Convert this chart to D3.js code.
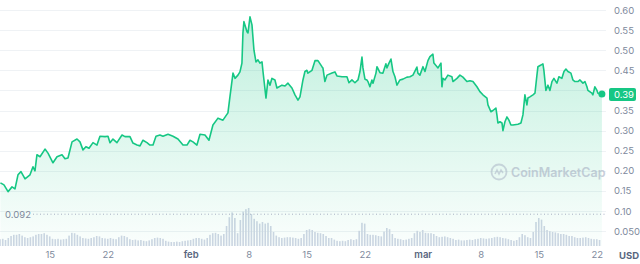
<!DOCTYPE html>
<html lang="en">
<head>
<meta charset="UTF-8">
<title>Price chart</title>
<style>
    html, body { margin: 0; padding: 0; background: #fff; }
    body { font-family: Inter, "Noto Sans", Arial, sans-serif; }
</style>
</head>
<body>
<svg id="svg" width="640" height="264"></svg>
<script src="https://d3js.org/d3.v7.min.js"></script>
<script>
// price samples: days after 2021-01-09 and the price in USD
const priceDays = [0.05, 0.48, 0.97, 1.45, 1.81, 2.17, 2.53, 3.02, 3.62, 3.98, 4.22, 4.46, 4.83, 5.43, 5.79, 6.39, 6.88, 7.48, 7.84, 8.20,
    8.69, 9.29, 9.65, 10.01, 10.37, 10.74, 11.22, 11.70, 12.06, 12.67, 13.03, 13.27, 13.63, 14.11, 14.72, 15.08, 15.68, 16.04, 16.53, 16.89,
    17.25, 17.73, 18.09, 18.46, 18.82, 19.30, 19.66, 20.27, 20.87, 21.47, 22.08, 22.56, 22.92, 23.28, 23.76, 24.13, 24.73, 25.21, 25.69, 26.30,
    26.90, 27.50, 27.74, 28.11, 28.35, 28.71, 28.95, 29.19, 29.31, 29.43, 29.80, 29.92, 30.16, 30.40, 30.64, 30.88, 31.12, 31.36, 31.61, 31.73,
    32.09, 32.33, 32.57, 32.81, 33.17, 33.41, 34.02, 34.38, 34.74, 35.22, 35.59, 35.95, 36.19, 36.55, 36.79, 37.03, 37.15, 37.64, 38.00, 38.36,
    38.84, 38.96, 39.20, 39.45, 40.05, 40.41, 40.65, 41.26, 41.86, 42.10, 42.46, 42.82, 43.19, 43.43, 43.67, 43.79, 44.03, 44.27, 44.39, 44.63,
    44.87, 45.00, 45.36, 45.48, 45.84, 46.20, 46.56, 46.68, 46.93, 47.17, 47.41, 47.65, 47.89, 48.25, 48.61, 49.10, 49.46, 49.82, 50.30, 50.42,
    50.66, 51.03, 51.27, 51.63, 51.87, 52.23, 52.35, 52.72, 52.84, 53.20, 53.32, 53.44, 53.68, 54.04, 54.52, 54.65, 55.13, 55.49, 55.85, 56.33,
    56.70, 57.06, 57.54, 57.90, 58.26, 58.75, 58.87, 59.23, 59.47, 59.83, 59.95, 60.07, 60.32, 60.56, 60.68, 60.92, 61.16, 61.40, 61.64, 61.88,
    62.49, 62.85, 63.09, 63.33, 63.57, 63.69, 63.93, 64.30, 64.54, 64.78, 64.90, 65.26, 65.50, 65.62, 65.86, 66.11, 66.35, 66.59, 66.83, 67.07,
    67.19, 67.43, 67.79, 68.04, 68.28, 68.52, 68.88, 69.12, 69.36, 69.72, 69.97, 70.33, 70.57, 70.81, 70.93, 71.41, 71.53, 71.77, 72.02, 72.14,
    72.38, 72.62]
const prices = [0.170, 0.165, 0.148, 0.160, 0.155, 0.190, 0.198, 0.180, 0.190, 0.210, 0.200, 0.240, 0.235, 0.254, 0.244, 0.220, 0.235, 0.240, 0.230, 0.232,
    0.272, 0.279, 0.272, 0.252, 0.260, 0.256, 0.270, 0.264, 0.286, 0.285, 0.286, 0.270, 0.279, 0.270, 0.289, 0.285, 0.285, 0.269, 0.264, 0.262,
    0.276, 0.270, 0.264, 0.264, 0.286, 0.289, 0.286, 0.291, 0.286, 0.279, 0.264, 0.264, 0.276, 0.272, 0.264, 0.291, 0.289, 0.276, 0.314, 0.331,
    0.326, 0.344, 0.384, 0.443, 0.430, 0.438, 0.446, 0.468, 0.543, 0.571, 0.546, 0.543, 0.583, 0.563, 0.500, 0.471, 0.476, 0.468, 0.471, 0.447,
    0.381, 0.426, 0.413, 0.430, 0.426, 0.406, 0.413, 0.411, 0.418, 0.406, 0.389, 0.376, 0.384, 0.426, 0.447, 0.450, 0.443, 0.450, 0.474, 0.474,
    0.459, 0.456, 0.422, 0.438, 0.443, 0.446, 0.436, 0.434, 0.434, 0.419, 0.426, 0.419, 0.426, 0.447, 0.483, 0.456, 0.428, 0.426, 0.422, 0.409,
    0.426, 0.418, 0.443, 0.459, 0.444, 0.443, 0.466, 0.456, 0.468, 0.478, 0.447, 0.434, 0.413, 0.426, 0.428, 0.433, 0.434, 0.438, 0.458, 0.443,
    0.438, 0.459, 0.447, 0.474, 0.484, 0.490, 0.468, 0.459, 0.456, 0.468, 0.409, 0.430, 0.426, 0.438, 0.434, 0.422, 0.430, 0.438, 0.433, 0.422,
    0.424, 0.422, 0.409, 0.397, 0.389, 0.381, 0.364, 0.347, 0.350, 0.356, 0.339, 0.319, 0.322, 0.319, 0.300, 0.322, 0.334, 0.326, 0.314, 0.314,
    0.316, 0.319, 0.339, 0.389, 0.364, 0.381, 0.384, 0.389, 0.393, 0.438, 0.459, 0.463, 0.466, 0.450, 0.400, 0.413, 0.400, 0.422, 0.430, 0.422,
    0.418, 0.434, 0.430, 0.447, 0.453, 0.447, 0.443, 0.426, 0.422, 0.422, 0.426, 0.418, 0.422, 0.409, 0.400, 0.393, 0.389, 0.409, 0.400, 0.393,
    0.391, 0.391]

// volume, one bar every 8 hours from 2021-01-09 (millions USD, estimated)
const volumes = [17, 18, 15, 20, 25, 28, 28, 30, 26, 22, 20, 22, 24, 28, 30, 30, 32, 28, 24, 18, 17, 18, 16, 17,
    18, 26, 33, 32, 28, 24, 20, 19, 18, 20, 22, 25, 24, 20, 19, 18, 20, 18, 17, 22, 26, 25, 22, 17,
    15, 16, 14, 15, 13, 12, 14, 17, 20, 21, 20, 18, 13, 11, 10, 10, 11, 10, 12, 13, 14, 15, 18, 20,
    20, 18, 16, 20, 28, 32, 33, 30, 26, 30, 50, 72, 84, 70, 32, 65, 86, 92, 95, 80, 68, 62, 56, 60,
    56, 58, 50, 35, 26, 22, 20, 21, 22, 22, 21, 20, 18, 20, 30, 40, 42, 40, 35, 33, 32, 30, 25, 20,
    20, 16, 13, 12, 13, 12, 15, 17, 15, 17, 38, 58, 56, 30, 28, 28, 27, 25, 24, 36, 45, 42, 30, 20,
    18, 17, 15, 16, 18, 20, 32, 38, 35, 40, 33, 32, 32, 30, 25, 22, 23, 24, 22, 20, 18, 15, 16, 14,
    14, 15, 16, 15, 17, 18, 20, 19, 18, 19, 20, 22, 23, 22, 20, 19, 17, 15, 13, 15, 22, 30, 27, 22,
    20, 35, 60, 70, 66, 50, 40, 37, 35, 34, 32, 30, 30, 28, 25, 25, 22, 20, 20, 21, 22, 20, 18, 17,
    17, 15]

const priceTicks = [0.60, 0.55, 0.50, 0.45, 0.40, 0.35, 0.30, 0.25, 0.20, 0.15, 0.10, 0.05]
const priceTickLabels = ['0.60', '0.55', '0.50', '0.45', '0.40', '0.35', '0.30', '0.25', '0.20', '0.15', '0.10', '0.050']
const dateTicks = ['2021-01-15', '2021-01-22', '2021-02-01', '2021-02-08', '2021-02-15', '2021-02-22', '2021-03-01', '2021-03-08', '2021-03-15', '2021-03-22']
const lowPrice = 0.092
const lastPrice = 0.39

const green = '#16c784'
const start = new Date(2021, 0, 9)
const end = d3.timeHour.offset(start, 72.75 * 24)

const svg = d3.select('#svg')

const x = d3.scaleTime().domain([start, end]).range([0, 603])
const y = d3.scaleLinear().domain([0.10, 0.60]).range([211, 10])
const yVol = d3.scaleLinear().domain([0, 100]).range([246, 206])

const priceData = priceDays.map((d, i) => ({ date: d3.timeMinute.offset(start, Math.round(d * 1440)), price: prices[i] }))
const volData = volumes.map((v, i) => ({ date: d3.timeHour.offset(start, i * 8), vol: v }))

// gradient for the area
const defs = svg.append('defs')
const grad = defs.append('linearGradient')
    .attr('id', 'areaGrad')
    .attr('gradientUnits', 'userSpaceOnUse')
    .attr('x1', 0).attr('x2', 0)
    .attr('y1', 10).attr('y2', 246)
grad.append('stop').attr('offset', '0%').attr('stop-color', green).attr('stop-opacity', 0.28)
grad.append('stop').attr('offset', '100%').attr('stop-color', green).attr('stop-opacity', 0.02)

// grid lines
svg.append('g')
    .selectAll('line')
    .data(priceTicks)
    .join('line')
    .attr('x1', 0)
    .attr('x2', 606)
    .attr('y1', d => Math.round(y(d)) + 0.5)
    .attr('y2', d => Math.round(y(d)) + 0.5)
    .attr('stroke', '#eff2f5')

// volume bars
svg.append('g')
    .selectAll('rect')
    .data(volData)
    .join('rect')
    .attr('x', d => x(d.date) - 0.8)
    .attr('y', d => yVol(d.vol))
    .attr('width', 1.6)
    .attr('height', d => 246 - yVol(d.vol))
    .attr('fill', '#cfd6e4')

// area + line
const area = d3.area()
    .x(d => x(d.date))
    .y0(246)
    .y1(d => y(d.price))
svg.append('path')
    .datum(priceData)
    .attr('d', area)
    .attr('fill', 'url(#areaGrad)')

const line = d3.line()
    .x(d => x(d.date))
    .y(d => y(d.price))
svg.append('path')
    .datum(priceData)
    .attr('d', line)
    .attr('fill', 'none')
    .attr('stroke', green)
    .attr('stroke-width', 1.6)
    .attr('stroke-linejoin', 'round')

// low price reference
svg.append('line')
    .attr('x1', 33)
    .attr('x2', 606)
    .attr('y1', y(lowPrice))
    .attr('y2', y(lowPrice))
    .attr('stroke', '#a6b0c3')
    .attr('stroke-dasharray', '1,2.5')
svg.append('text')
    .attr('x', 5)
    .attr('y', y(lowPrice) + 3.5)
    .attr('font-size', 9.5)
    .attr('fill', '#808a9d')
    .text(d3.format('.3f')(lowPrice))

// watermark
const wm = svg.append('g').attr('transform', 'translate(499,172)').attr('opacity', 0.5)
wm.append('circle').attr('r', 7.5).attr('fill', 'none').attr('stroke', '#a6b0c3').attr('stroke-width', 1.8)
wm.append('path')
    .attr('d', 'M-4,2 L-2,-2 L0,2 L2,-2 L4,1')
    .attr('fill', 'none').attr('stroke', '#a6b0c3').attr('stroke-width', 1.5)
svg.append('text')
    .attr('x', 511)
    .attr('y', 176.5)
    .attr('font-size', 12.5)
    .attr('font-weight', 600)
    .attr('fill', '#a6b0c3')
    .attr('opacity', 0.6)
    .text('CoinMarketCap')

// right axis (the label under the current price tag is hidden, as in the original)
const tagY = y(lastPrice)
const rightAxis = d3.axisRight(y)
    .tickValues(priceTicks.filter(d => Math.abs(y(d) - tagY) > 10))
    .tickFormat(d => priceTickLabels[priceTicks.indexOf(d)])
    .tickSize(0)
    .tickPadding(4)
svg.append('g')
    .attr('transform', 'translate(610,0)')
    .call(rightAxis)
    .call(g => g.select('.domain').remove())
    .call(g => g.selectAll('text')
        .attr('fill', '#808a9d')
        .attr('font-size', 9.5)
        .attr('font-family', 'Inter, "Noto Sans", Arial, sans-serif'))

// bottom axis
const bottomAxis = d3.axisBottom(x)
    .tickValues(dateTicks.map(d => d3.timeParse('%Y-%m-%d')(d)))
    .tickFormat(d => d.getDate() === 1 ? d3.timeFormat('%b')(d).toLowerCase() : d.getDate())
    .tickSize(0)
    .tickPadding(5)
svg.append('g')
    .attr('transform', 'translate(0,246)')
    .call(bottomAxis)
    .call(g => g.select('.domain').remove())
    .call(g => g.selectAll('text')
        .attr('fill', d => d.getDate() === 1 ? '#58667e' : '#808a9d')
        .attr('font-weight', d => d.getDate() === 1 ? 600 : 400)
        .attr('font-size', 9.5)
        .attr('font-family', 'Inter, "Noto Sans", Arial, sans-serif'))

svg.append('text')
    .attr('x', 619)
    .attr('y', 258.5)
    .attr('font-size', 9.5)
    .attr('font-weight', 700)
    .attr('fill', '#58667e')
    .text('USD')

// end dot and current price tag
const last = priceData[priceData.length - 1]
svg.append('circle')
    .attr('cx', x(last.date))
    .attr('cy', y(last.price))
    .attr('r', 3.5)
    .attr('fill', green)

svg.append('rect')
    .attr('x', 609)
    .attr('y', tagY - 6.5)
    .attr('width', 27)
    .attr('height', 13)
    .attr('rx', 2)
    .attr('fill', green)
svg.append('text')
    .attr('x', 614)
    .attr('y', tagY + 3.3)
    .attr('font-size', 9.5)
    .attr('fill', '#fff')
    .text(lastPrice.toFixed(2))
</script>
</body>
</html>
